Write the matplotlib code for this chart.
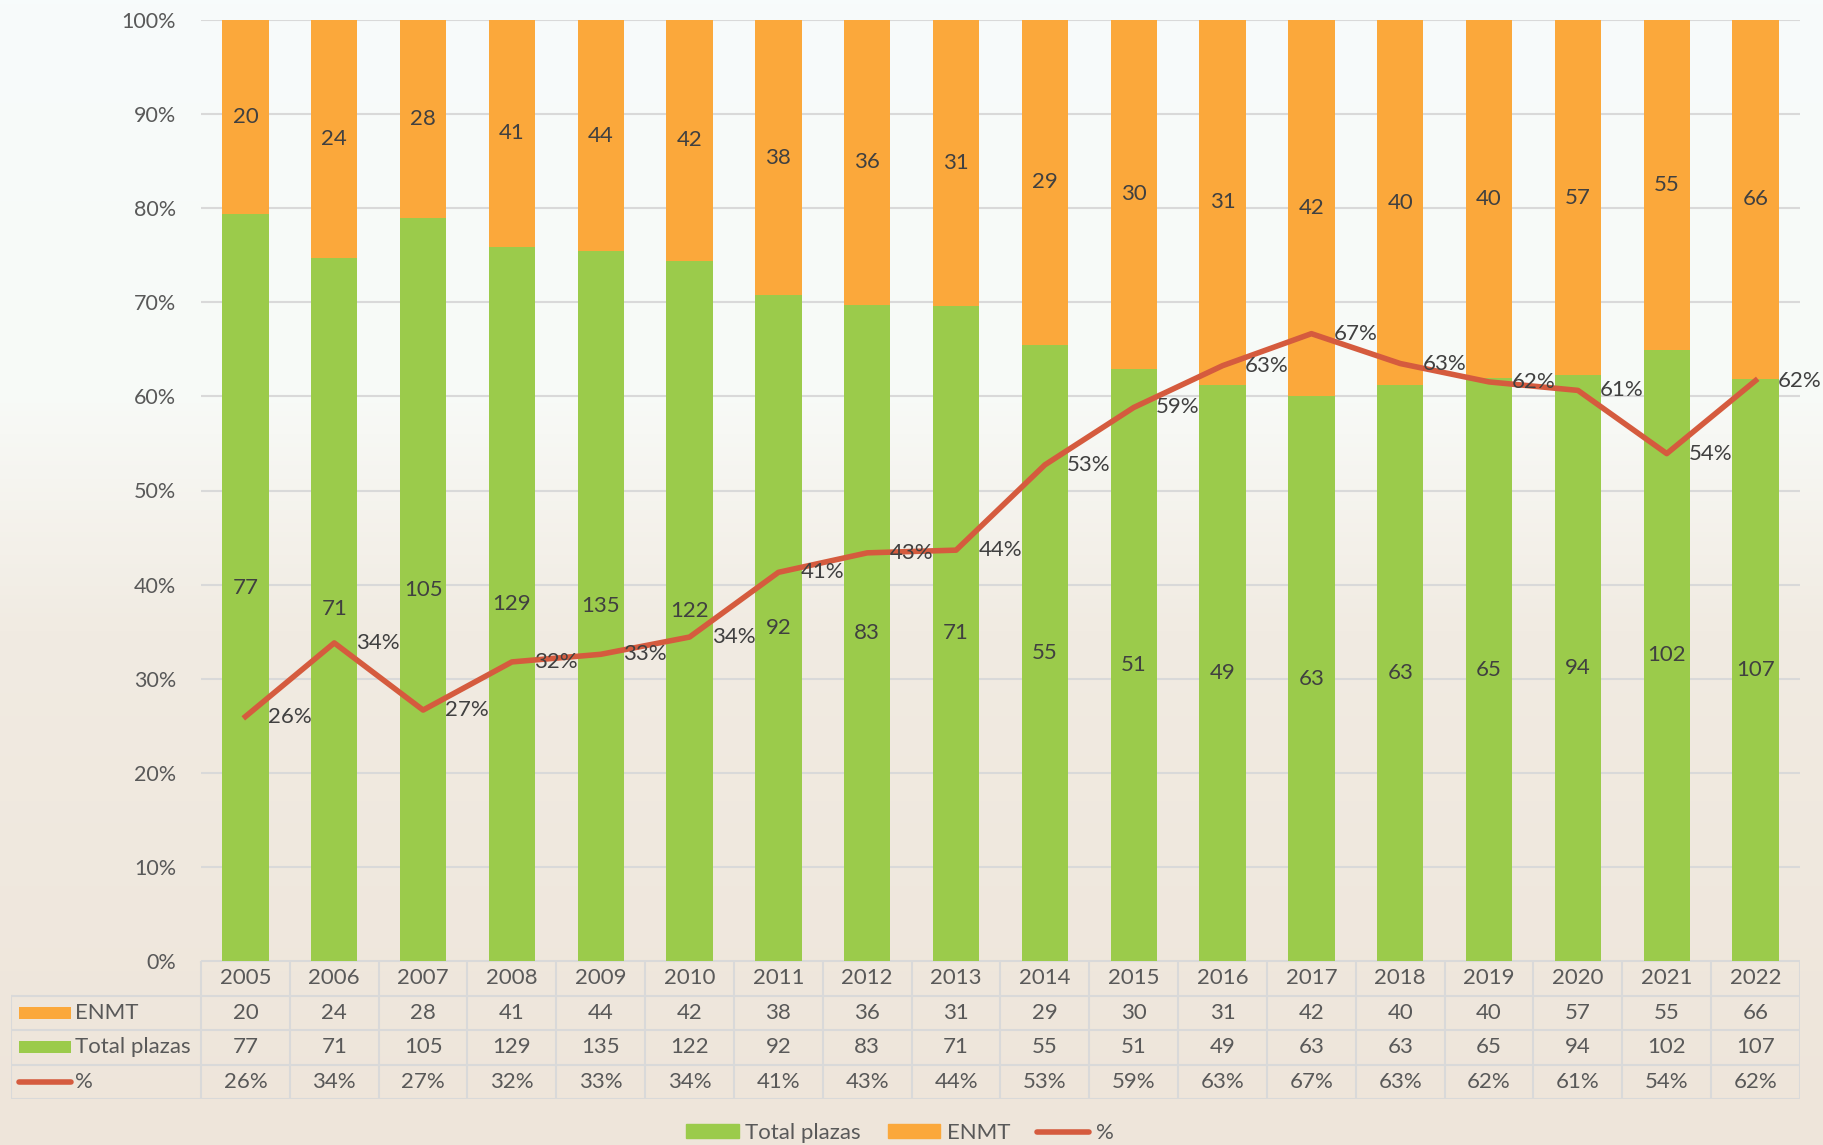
import numpy as np
import matplotlib
matplotlib.use('Agg')
import matplotlib.pyplot as plt
from matplotlib.colors import LinearSegmentedColormap
from matplotlib.lines import Line2D
from matplotlib.patches import Patch, Rectangle

YEARS = ['2005', '2006', '2007', '2008', '2009', '2010', '2011', '2012', '2013',
         '2014', '2015', '2016', '2017', '2018', '2019', '2020', '2021', '2022']
ENMT = [20, 24, 28, 41, 44, 42, 38, 36, 31, 29, 30, 31, 42, 40, 40, 57, 55, 66]
TOTAL_PLAZAS = [77, 71, 105, 129, 135, 122, 92, 83, 71, 55, 51, 49, 63, 63, 65, 94, 102, 107]
Y_TICKS = [0, 10, 20, 30, 40, 50, 60, 70, 80, 90, 100]

GREEN = '#9BCB4B'
ORANGE = '#FBA83B'
RED = '#D55B3E'
TEXT = '#404040'
TICK_TEXT = '#595959'
GRID = '#D9D9D9'
FS = 16

W, H = 1824, 1145
plt.rcParams['font.family'] = ['Lato', 'DejaVu Sans']


def fx(px):
    return px / W


def fy(py):
    return 1 - py / H


enmt = np.array(ENMT, dtype=float)
total = np.array(TOTAL_PLAZAS, dtype=float)
share_total = total / (enmt + total) * 100
share_enmt = enmt / (enmt + total) * 100
ratio = enmt / total * 100
x = np.arange(len(YEARS))

fig = plt.figure(figsize=(W / 100, H / 100), dpi=100)

# background gradient
bg = fig.add_axes([0, 0, 1, 1], zorder=-10)
cmap = LinearSegmentedColormap.from_list(
    'bg', [(0, '#F7FBFB'), (0.35, '#F8FAF7'), (0.55, '#F1EBE2'), (1, '#EEE5DA')])
grad = np.linspace(0, 1, 256).reshape(-1, 1)
bg.imshow(grad, aspect='auto', cmap=cmap, extent=[0, 1, 0, 1], origin='upper')
bg.axis('off')

ax = fig.add_axes([fx(201), fy(961), fx(1800 - 201), fy(20) - fy(961)])
ax.patch.set_alpha(0)
ax.set_xlim(-0.5, len(YEARS) - 0.5)
ax.set_ylim(0, 100)

ax.bar(x, share_total, width=0.52, color=GREEN, zorder=2)
ax.bar(x, share_enmt, width=0.52, bottom=share_total, color=ORANGE, zorder=2)
ax.plot(x, ratio, color=RED, lw=4, zorder=3, solid_joinstyle='round')

for i in range(len(YEARS)):
    ax.text(x[i], share_total[i] / 2, str(TOTAL_PLAZAS[i]), ha='center', va='center',
            fontsize=FS, color=TEXT, zorder=4)
    ax.text(x[i], share_total[i] + share_enmt[i] / 2, str(ENMT[i]), ha='center',
            va='center', fontsize=FS, color=TEXT, zorder=4)
    ax.annotate(f'{ratio[i]:.0f}%', (x[i], ratio[i]), xytext=(16, 0),
                textcoords='offset points', ha='left', va='center', fontsize=FS,
                color=TEXT, zorder=5, annotation_clip=False)

ax.set_yticks(Y_TICKS)
ax.set_yticklabels([f'{t}%' for t in Y_TICKS], fontsize=FS - 0.5, color=TICK_TEXT)
ax.tick_params(axis='y', length=0, pad=18)
ax.set_xticks([])
ax.grid(axis='y', color=GRID, lw=1.5, zorder=0)
for s in ax.spines.values():
    s.set_visible(False)

# data table
label_cols = (201 - 11) / ((1800 - 201) / len(YEARS))
tax = fig.add_axes([fx(11), fy(1099), fx(1800 - 11), fy(961) - fy(1099)])
tax.patch.set_alpha(0)
tax.set_xlim(-0.5 - label_cols, len(YEARS) - 0.5)
tax.set_ylim(4, 0)
tax.axis('off')

line_kw = dict(color='#D9D9D9', lw=1.5, zorder=1)
left = -0.5 - label_cols
right = len(YEARS) - 0.5
tax.plot([-0.5, right], [0, 0], **line_kw)
for r in range(1, 5):
    tax.plot([left, right], [r, r], **line_kw)
tax.plot([left, left], [1, 4], **line_kw)
for i in range(len(YEARS) + 1):
    tax.plot([i - 0.5, i - 0.5], [0, 4], **line_kw)

rows = [
    ('ENMT', [str(v) for v in ENMT]),
    ('Total plazas', [str(v) for v in TOTAL_PLAZAS]),
    ('%', [f'{v:.0f}%' for v in ratio]),
]
for i, year in enumerate(YEARS):
    tax.text(i, 0.5, year, ha='center', va='center', fontsize=FS, color=TICK_TEXT)
for r, (name, vals) in enumerate(rows, start=1):
    for i, v in enumerate(vals):
        tax.text(i, r + 0.5, v, ha='center', va='center', fontsize=FS, color=TICK_TEXT)
    tax.text(left + 0.72, r + 0.5, name, ha='left', va='center', fontsize=FS,
             color=TICK_TEXT)

key_x0 = left + 0.09
key_w = 0.58
tax.add_patch(Rectangle((key_x0, 1.5 - 0.17), key_w, 0.34, color=ORANGE, lw=0))
tax.add_patch(Rectangle((key_x0, 2.5 - 0.17), key_w, 0.34, color=GREEN, lw=0))
tax.plot([key_x0, key_x0 + key_w], [3.5, 3.5], color=RED, lw=4, solid_capstyle='round')

handles = [
    Patch(color=GREEN, label='Total plazas'),
    Patch(color=ORANGE, label='ENMT'),
    Line2D([0], [0], color=RED, lw=4, solid_capstyle='round', label='%'),
]
fig.legend(handles=handles, loc='center', bbox_to_anchor=(fx(900), fy(1133)), ncol=3,
           frameon=False, fontsize=FS, handlelength=2.35, handleheight=0.55,
           columnspacing=1.2, handletextpad=0.3, labelcolor=TICK_TEXT)

fig.savefig('out.png', dpi=100)
